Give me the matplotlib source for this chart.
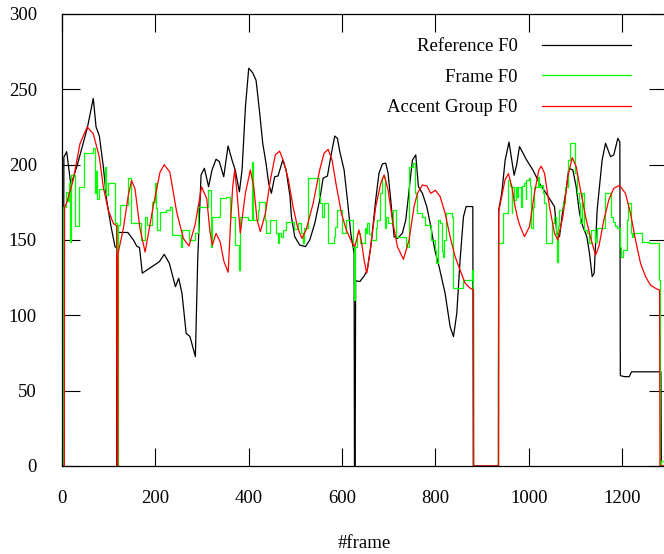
import matplotlib
matplotlib.use('Agg')
import matplotlib.pyplot as plt

# ---------------- data ----------------
ref_frames = [0, 3, 4, 10, 19, 32, 54, 67, 73, 80, 88.6, 95.7, 105, 113.6, 117, 117.5, 118.5, 119,
              141, 153, 160, 166, 172, 208.6, 219, 230, 243, 250, 257, 266, 274, 285.7, 290.7,
              297.9, 305, 314, 321.4, 330, 337, 346.4, 355.7, 364.3, 371, 380, 385.7, 393, 400,
              408.5, 415.7, 422.8, 430, 437, 442.8, 448.5, 455.6, 462.8, 472.8, 480, 488.5,
              491.4, 498.6, 509, 521.4, 530.7, 541.4, 552, 559.3, 568.6, 575.7, 584.3, 590, 595,
              604.3, 611.4, 618.6, 625.7, 626.5, 628, 629, 638, 647, 654, 661.4, 672, 679, 686.4,
              693.5, 698.5, 704.2, 711.4, 718.5, 729.2, 736.4, 743.5, 750.7, 757.8, 763.5, 772,
              781.4, 790, 798.5, 807.8, 820.7, 831.4, 838.6, 845.7, 852.8, 860, 865.7, 880, 881,
              935, 935.5, 942, 949.3, 957.5, 963.5, 968.5, 974, 980, 987, 994.3, 1008.6, 1022.9,
              1037, 1055, 1060, 1065.7, 1072.9, 1080, 1085.7, 1094.3, 1101.4, 1108.6, 1115.7,
              1124.3, 1130, 1135.7, 1140, 1146.4, 1157, 1164.3, 1175, 1182, 1190.7, 1195, 1196,
              1205, 1215, 1220, 1283, 1284, 1296]
ref_f0 = [0, 0, 205, 208.6, 186.5, 199, 224, 244, 225, 219, 198.6, 176.5, 159, 145.5, 145, 0, 0, 155,
          155, 150, 146, 145, 128, 135.6, 140.5, 134.5, 119, 124.6, 114.6, 88, 86, 72.6, 136.7,
          193.2, 197.6, 185.4, 196.5, 203.6, 202, 192, 212.4, 203, 196.5, 182, 196.5, 238.5, 264,
          261, 256, 236.3, 214.2, 201, 187.6, 181, 192, 192.5, 203, 196.5, 178.8,
          165.5, 152.2, 146.7, 145.6, 150, 161, 176.6, 191, 192.5, 205.3, 219, 217.5, 208.7,
          196.5, 176.6, 154.5, 141.2, 0, 0, 123, 122.4, 126, 130, 145.6, 176.6, 194.3, 200.5,
          201, 194.3, 176.6, 152.2, 151, 154.5, 163.3, 183.2, 203, 206.5, 185.4, 181,
          172.2, 159, 143.4, 132.3, 114.6, 92.5, 85.9, 101.4, 136.8, 165.5, 172.2, 172.2, 0,
          0, 170, 181, 203, 215, 203, 193, 200, 212, 208, 203.6, 196.5, 187.6,
          181, 172.2, 154.5, 152.2, 170, 183.2, 197.6, 196.5, 185.4, 167.7, 159,
          152.2, 141, 125.7, 128, 170, 203, 214.2, 205.3, 206.5, 217.5, 215, 60,
          59.3, 59.3, 62.5, 62.5, 0, 0]

frame_frames = [0, 2, 8, 12, 15, 17, 19, 28, 37, 47, 66, 70, 72, 75, 80, 93, 95, 98, 113, 117,
                120, 125, 141, 148, 170, 177, 183, 192, 200, 202, 204, 209, 223, 232, 236, 254,
                258, 273, 284, 291, 312, 320, 322, 338, 352, 359, 370, 380, 382, 398, 406, 409,
                420, 423, 435, 438, 446, 459, 462, 465, 470, 473, 480, 497, 505, 513, 516, 519,
                527, 550, 553, 556, 558, 561, 569, 582, 585, 590, 599, 608, 624, 626, 628, 633,
                639, 648, 652, 654, 658, 661, 672, 675, 681, 686, 691, 693, 699, 708, 715, 737,
                743, 752, 757, 761, 772, 778, 790, 800, 802, 805, 809, 813, 816, 819, 822, 835,
                838, 859, 879, 881, 934, 945, 956, 960, 963, 965, 969, 972, 975, 977, 983, 985,
                990, 993, 995, 1000, 1003, 1005, 1008, 1012, 1019, 1022, 1026, 1030, 1033, 1036,
                1050, 1055, 1058, 1060, 1062, 1065, 1073, 1078, 1083, 1088, 1098, 1104, 1108,
                1110, 1113, 1118, 1124, 1128, 1133, 1141, 1146, 1163, 1176, 1180, 1184, 1189,
                1195, 1198, 1202, 1210, 1212, 1219, 1221, 1224, 1242, 1257, 1278, 1282, 1283, 1296]
frame_f0 = [0, 172, 182, 176, 188, 149, 193, 159, 185, 207.6, 211, 181, 196, 177, 184, 198.6, 180,
            187.6, 161, 0, 160, 173, 191, 161, 150, 165.5, 160, 175.4, 187.6, 171, 156.6, 168.8,
            170, 172, 153.3, 145.5, 156.6, 150, 154.6, 172, 183, 145.5, 165.5, 177.6, 178.7,
            165.5, 146.6, 130, 165.5, 163.5, 202, 163.5, 170, 175.4, 163.5, 154.6, 163.5, 154.6,
            148, 154.6, 152, 156.6, 162, 157, 161, 154.5, 148, 158, 191, 178.8, 174.4, 170,
            165.5, 174.4, 148.3, 152, 158.9, 170, 154.5, 163.3, 145.6, 110, 145.6, 154.5,
            147.8, 157.8, 154.5, 161, 154, 150, 157.8, 163.3, 181, 192, 157.8, 165.5, 161,
            170, 152, 145.6, 198.7, 201, 181, 167.7, 165.5, 160, 150, 143.4, 134.5, 163.3,
            161, 143, 139, 150, 167.7, 165.5, 118, 123.5, 130, 0, 148, 167.7, 190, 186, 167.7,
            185.4, 176.6, 185, 178.8, 185.4, 172.2, 186, 187.6, 177, 189.9, 191, 186, 157.8,
            172.2, 185.4, 192, 185, 186.5, 181, 174.4, 147.8, 161, 165.5, 154, 135.6, 159,
            170, 174.4, 185.4, 203, 214.2, 194.3, 181, 174.4, 161, 181, 156.7, 154.5, 147.8,
            156.7, 149, 157.8, 181, 165.5, 162, 159, 157.8, 145.6, 139, 143.4, 163.3, 174.4,
            154.5, 152.2, 154.5, 149, 147.8, 123.5, 0, 3, 3]

acc_frames = [0, 5, 5.5, 10, 24, 38.6, 54, 67, 80, 88.6, 99, 110, 117, 118, 119.5, 120, 131.4, 142,
              149, 156.4, 167, 178, 195.7, 210, 219, 231, 245.7, 260, 272, 285, 299, 310, 317,
              322, 330, 338.6, 347, 356, 360.7, 365.7, 370, 375, 382, 392.8, 403.5, 410.7, 417.8,
              425, 435.7, 446.4, 457, 466, 475, 485, 495, 505, 514, 523, 538, 552, 561.4, 570,
              578.6, 588, 598.6, 609, 620, 627, 631, 636, 641, 647, 652.8, 661.4, 672, 682.8,
              690, 698.5, 707.8, 718.5, 731.4, 743.5, 754, 761.4, 772, 781.4, 790, 800, 810,
              820.7, 831.4, 842, 852.8, 863.5, 874.3, 881.4, 882, 935, 935.5, 942, 949, 956.4,
              963.5, 970.7, 977, 981.5, 990.7, 1001.5, 1012, 1021.5, 1026.5, 1033.6, 1044.3,
              1055, 1062, 1073, 1083.6, 1093, 1101.4, 1112, 1123, 1133.6, 1143, 1150, 1160.7,
              1171.4, 1182, 1194.3, 1207, 1217.8, 1228.5, 1239.3, 1250, 1260.7, 1275, 1280,
              1281, 1296]
acc_f0 = [0, 0, 172, 174.5, 189.9, 214, 225, 220.5, 205, 185, 170, 161, 159.5, 0, 0, 141, 157.6,
          179.6, 189.5, 184, 157.6, 142, 172.8, 195, 200, 195, 168.5, 151, 146, 160, 185.3,
          177.5, 155.5, 146.6, 154.4, 149, 135.6, 128.6, 159, 185.4, 196.5, 181, 154.5, 181,
          196.5, 185.4, 163.3, 155.6, 167.7, 190, 206.4, 209, 202, 190, 172, 158, 151, 156.7,
          174.4, 196.5, 207.6, 210.2, 203, 185.4, 167.7, 156.7, 149, 145.5, 150, 156.7, 150,
          137, 128, 145.6, 172, 187.6, 193.2, 183.2, 163.3, 145.6, 137.2, 150, 172, 181,
          186.5, 185.9, 181, 183, 178.8, 167.7, 152.2, 139, 130, 121.3, 118, 116.9, 0, 0, 169,
          178.8, 190, 194, 185.4, 172, 163.3, 159, 152.2, 159, 181, 196.5, 199, 194.3, 172,
          154.5, 150, 165.5, 192, 204.7, 198.7, 181, 163.3, 150, 140, 145.6, 163.3, 176.6,
          184.3, 186.3, 181, 167.7, 150, 134.5, 125.7, 120, 117.3, 116.9, 0, 0]

x_ticks = [0, 200, 400, 600, 800, 1000, 1200]
y_ticks = [0, 50, 100, 150, 200, 250, 300]
series_labels = ['Reference F0', 'Frame F0', 'Accent Group F0']
x_label = '#frame'

# ---------------- drawing ----------------
plt.rcParams['font.family'] = ['Liberation Serif', 'DejaVu Serif']
plt.rcParams['font.size'] = 13.5

W, H = 664, 554
fig = plt.figure(figsize=(W / 100, H / 100), dpi=100)
ax = fig.add_axes([62 / W, 88 / H, 605 / W, 452 / H])

ax.plot(ref_frames, ref_f0, color='#000000', lw=0.9, label=series_labels[0])
ax.plot(frame_frames, frame_f0, color='#00ff00', lw=0.9, drawstyle='steps-post',
        label=series_labels[1])
ax.plot(acc_frames, acc_f0, color='#ff0000', lw=0.9, label=series_labels[2])

ax.set_xlim(0, 1296)
ax.set_ylim(0, 300)
ax.set_xticks(x_ticks)
ax.set_yticks(y_ticks)
ax.tick_params(direction='in', length=13, width=0.8, top=True, right=True,
               colors='black')
ax.tick_params(axis='y', pad=18)
ax.tick_params(axis='x', pad=17)
for s in ax.spines.values():
    s.set_linewidth(0.9)

ax.set_xlabel(x_label)
ax.xaxis.set_label_coords(0.5, -0.153)
ax.xaxis.label.set_verticalalignment('top')

leg = ax.legend(loc='upper right', bbox_to_anchor=(631 / W, (554 - 38) / H),
                bbox_transform=fig.transFigure, frameon=False, markerfirst=False,
                handlelength=4.75, handletextpad=1.3, labelspacing=0.72,
                borderpad=0, borderaxespad=0)

fig.savefig('out.png', dpi=100)
